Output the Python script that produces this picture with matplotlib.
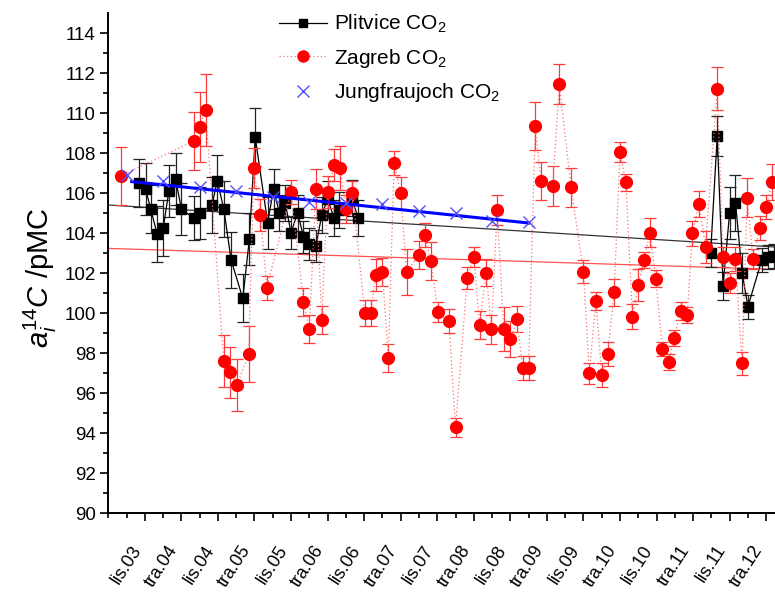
import numpy as np
import matplotlib
matplotlib.use('Agg')
import matplotlib.pyplot as plt
from matplotlib.lines import Line2D

plt.rcParams['font.family'] = ['Liberation Sans', 'DejaVu Sans']
plt.rcParams['mathtext.fontset'] = 'custom'
plt.rcParams['mathtext.rm'] = 'Liberation Sans'
plt.rcParams['mathtext.it'] = 'Liberation Sans:italic'

# Plitvice CO2 (decimal year, pMC, error); NaN breaks the line 2006-2011
plit_t = [2003.67, 2003.76, 2003.83, 2003.92, 2004.00, 2004.08, 2004.17, 2004.25,
          2004.42, 2004.50, 2004.67, 2004.74, 2004.83, 2004.93, 2005.09, 2005.18,
          2005.26, 2005.43, 2005.51, 2005.59, 2005.67, 2005.75, 2005.84, 2005.92,
          2006.00, 2006.09, 2006.17, 2006.25, 2006.34, 2006.41, 2006.58, 2006.67,
          2009.00,
          2011.49, 2011.58, 2011.66, 2011.75, 2011.83, 2011.92, 2012.00, 2012.19,
          2012.27, 2012.35]
plit_a = [106.48, 106.2, 105.2, 103.93, 104.23, 106.12, 106.7, 105.2,
          104.73, 105.02, 105.4, 106.62, 105.2, 102.65, 100.73, 103.7,
          108.78, 104.52, 106.18, 105.02, 105.5, 104.02, 105.02, 103.82,
          103.45, 103.35, 104.9, 105.7, 104.73, 105.15, 105.73, 104.73,
          np.nan,
          103.02, 108.85, 101.37, 105.02, 105.52, 102.02, 100.32, 102.65,
          102.82, 102.85]
plit_err = [1.2, 1.3, 1.2, 1.4, 1.4, 1.3, 1.3, 1.3,
            1.1, 1.3, 1.4, 1.3, 1.4, 1.4, 1.2, 1.3,
            1.45, 1.3, 1.0, 0.9, 0.9, 0.8, 0.9, 0.8,
            0.8, 0.8, 0.9, 0.9, 0.9, 0.9, 0.9, 0.9,
            np.nan,
            0.7, 1.0, 0.7, 1.3, 1.4, 1.0, 0.6, 0.6,
            0.6, 0.6]

# Zagreb CO2
zag_t = [2003.42, 2004.42, 2004.50, 2004.58, 2004.83, 2004.92, 2005.01, 2005.17,
         2005.24, 2005.33, 2005.42, 2005.75, 2005.92, 2006.00, 2006.09, 2006.17,
         2006.25, 2006.34, 2006.42, 2006.50, 2006.59, 2006.76, 2006.84, 2006.91,
         2007.00, 2007.08, 2007.16, 2007.25, 2007.33, 2007.50, 2007.58, 2007.66,
         2007.76, 2007.91, 2008.00, 2008.16, 2008.25, 2008.33, 2008.42, 2008.49,
         2008.57, 2008.66, 2008.75, 2008.84, 2008.92, 2009.00, 2009.09, 2009.17,
         2009.33, 2009.42, 2009.58, 2009.75, 2009.83, 2009.92, 2010.00, 2010.08,
         2010.17, 2010.25, 2010.33, 2010.42, 2010.50, 2010.58, 2010.66, 2010.74,
         2010.83, 2010.92, 2010.99, 2011.08, 2011.17, 2011.24, 2011.33, 2011.42,
         2011.58, 2011.66, 2011.75, 2011.83, 2011.92, 2011.99, 2012.07, 2012.16,
         2012.25, 2012.33]
zag_a = [106.85, 108.6, 109.32, 110.15, 97.6, 97.03, 96.4, 97.93,
         107.25, 104.9, 101.27, 106.05, 100.57, 99.18, 106.18, 99.65,
         106.07, 107.4, 107.25, 105.2, 106.02, 99.98, 99.98, 101.9,
         102.07, 97.73, 107.5, 105.98, 102.07, 102.9, 103.9, 102.6,
         100.07, 99.62, 94.28, 101.73, 102.8, 99.4, 102.02, 99.18,
         105.15, 99.18, 98.7, 99.68, 97.23, 97.23, 109.35, 106.6,
         106.37, 111.43, 106.28, 102.07, 96.98, 100.6, 96.9, 97.93,
         101.03, 108.05, 106.53, 99.82, 101.4, 102.65, 104.02, 101.72,
         98.22, 97.55, 98.77, 100.1, 99.9, 103.98, 105.43, 103.32,
         111.22, 102.82, 101.48, 102.68, 97.48, 105.77, 102.68, 104.23,
         105.3, 106.55]
zag_err = [1.45, 1.46, 1.75, 1.8, 1.3, 1.28, 1.28, 1.4,
           1.0, 0.8, 0.6, 0.6, 0.7, 0.7, 1.0, 0.7,
           0.8, 0.8, 1.1, 0.7, 0.6, 0.65, 0.65, 0.8,
           0.7, 0.7, 0.6, 0.8, 1.15, 0.7, 0.6, 0.95,
           0.5, 0.6, 0.47, 0.55, 0.52, 0.7, 0.68, 0.72,
           0.77, 1.1, 0.9, 0.65, 0.6, 0.6, 1.22, 0.95,
           1.0, 1.0, 0.96, 0.58, 0.52, 0.45, 0.6, 0.6,
           0.68, 0.52, 0.43, 0.64, 0.8, 0.4, 0.72, 0.43,
           0.35, 0.42, 0.4, 0.45, 0.4, 0.62, 0.65, 0.8,
           1.08, 0.5, 0.5, 0.6, 0.58, 0.96, 0.5, 0.6,
           0.6, 0.88]

# Jungfraujoch CO2
jfj_t = [2003.5, 2004.0, 2004.5, 2005.0, 2005.5, 2006.0, 2006.5, 2007.0,
         2007.5, 2008.0, 2008.5, 2009.0]
jfj_a = [106.9, 106.6, 106.3, 106.08, 105.8, 105.57, 105.5, 105.45,
         105.1, 105.0, 104.6, 104.55]

# linear trends (end points)
plit_fit_t = [2003.25, 2012.5]
plit_fit_a = [105.4, 103.27]
zag_fit_t = [2003.25, 2012.5]
zag_fit_a = [103.23, 102.17]
jfj_fit_t = [2003.57, 2009.0]
jfj_fit_a = [106.57, 104.5]

tick_labels = ['lis.03', 'tra.04', 'lis.04', 'tra.05', 'lis.05', 'tra.06',
               'lis.06', 'tra.07', 'lis.07', 'tra.08', 'lis.08', 'tra.09',
               'lis.09', 'tra.10', 'lis.10', 'tra.11', 'lis.11', 'tra.12']

fig = plt.figure(figsize=(7.75, 5.94), dpi=100)
ax = fig.add_axes([108.3 / 775, 81 / 594, 9.25 * 73.1 / 775, 500 / 594])

# trend lines
ax.plot(plit_fit_t, plit_fit_a, color='#333333', lw=0.9, zorder=2)
ax.plot(zag_fit_t, zag_fit_a, color='#ff5050', lw=0.9, zorder=2)

# Plitvice
ax.errorbar(plit_t, plit_a, yerr=plit_err, fmt='none', ecolor='#222222',
            elinewidth=0.9, capsize=4, capthick=0.9, zorder=3)
ax.plot(plit_t, plit_a, color='black', lw=0.9, marker='s', ms=7,
        mfc='black', mec='black', zorder=4)

# Zagreb
ax.errorbar(zag_t, zag_a, yerr=zag_err, fmt='none', ecolor='#ff3a3a',
            elinewidth=0.9, capsize=4.5, capthick=0.9, zorder=5)
ax.plot(zag_t, zag_a, color='#ff7070', lw=0.9, ls=(0, (1, 2)), zorder=5)
ax.plot(zag_t, zag_a, ls='none', marker='o', ms=8.5, mfc='#ff0000', mec='#ff0000', zorder=6)

# Jungfraujoch
ax.plot(jfj_fit_t, jfj_fit_a, color='#0000ff', lw=2.2, zorder=7)
ax.plot(jfj_t, jfj_a, ls='none', marker='x', ms=9, mew=1, color='#5050ff', zorder=8)

ax.set_xlim(2003.25, 2012.5)
ax.set_ylim(90, 115)
ax.set_xticks(2003.75 + 0.5 * np.arange(len(tick_labels)))
ax.set_xticks(np.arange(2003.25, 2012.6, 0.25), minor=True)
ax.set_xticklabels(tick_labels, rotation=57, ha='right', fontsize=13)
ax.set_yticks(np.arange(90, 115, 2))
ax.set_yticks(np.arange(90, 115, 1), minor=True)
ax.tick_params(axis='y', labelsize=13.5)
ax.tick_params(which='major', direction='out', length=6, width=1.2, pad=3)
ax.tick_params(which='minor', direction='out', length=3.5, width=1.2)
ax.tick_params(axis='x', which='major', pad=15)
for s in ['top', 'right']:
    ax.spines[s].set_visible(False)
for s in ['left', 'bottom']:
    ax.spines[s].set_linewidth(1.4)

fig.text(40 / 775, 1 - 278 / 594, r'$a_i^{14}C$ /pMC', rotation=90,
         ha='center', va='center', fontsize=21)

h_plit = Line2D([], [], color='black', lw=0.9, marker='s', ms=6)
h_zag = Line2D([], [], color='#ff7070', lw=0.9, ls=(0, (1, 2)), marker='o', ms=8,
               mfc='#ff0000', mec='#ff0000')
h_jfj = Line2D([], [], ls='none', marker='x', ms=9, mew=1, color='#5050ff')
fig.legend([h_plit, h_zag, h_jfj],
           ['Plitvice CO$_2$', 'Zagreb CO$_2$', 'Jungfraujoch CO$_2$'],
           loc='upper left', bbox_to_anchor=(279 / 775, 1 - 13 / 594),
           frameon=False, fontsize=15, handlelength=2.3, handletextpad=0.35,
           labelspacing=0.55, borderpad=0, borderaxespad=0)

fig.savefig('out.png', dpi=100)
